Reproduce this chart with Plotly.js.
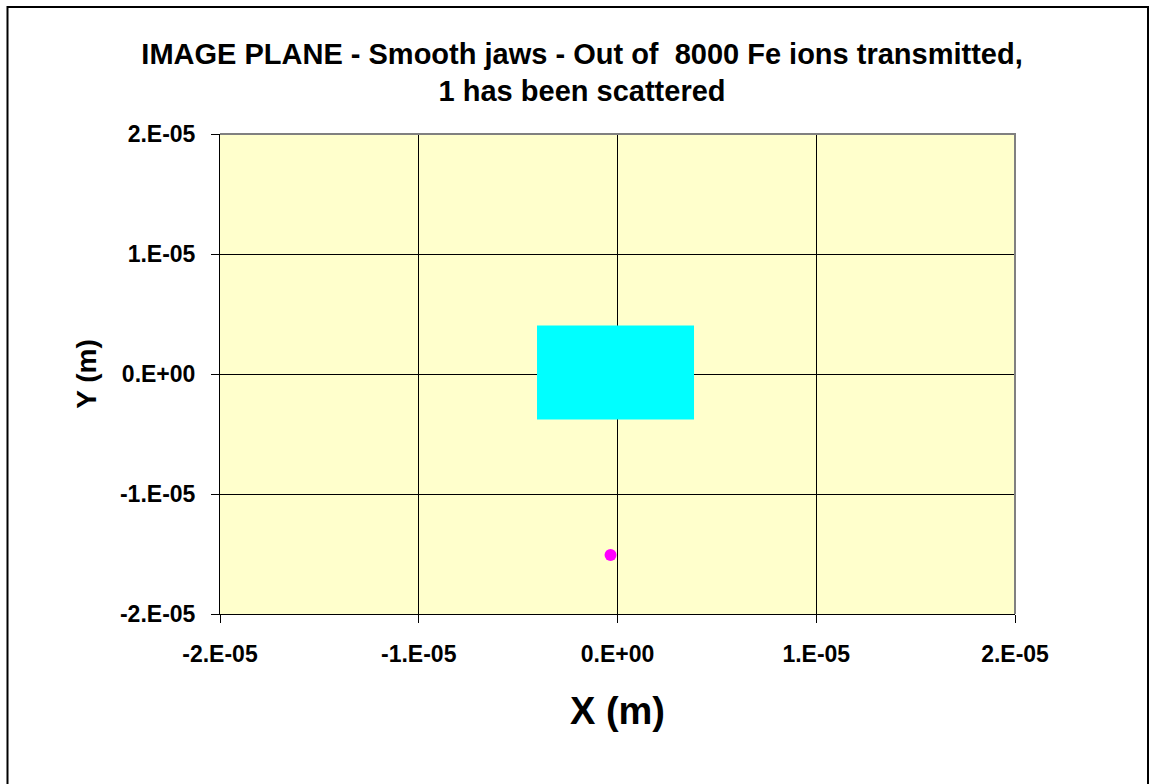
<!DOCTYPE html>
<html>
<head>
<meta charset="utf-8">
<script src="https://cdn.plot.ly/plotly-3.0.1.min.js"></script>
<style>
html,body{margin:0;padding:0;background:#fff;overflow:hidden;}
#chart{width:1151px;height:784px;}
</style>
</head>
<body>
<div id="chart"></div>
<script>
// Transmitted ions: outline of the dense cyan cloud (corners)
var cloudX = [-4.05e-6, 3.85e-6, 3.85e-6, -4.05e-6, -4.05e-6];
var cloudY = [4.05e-6, 4.05e-6, -3.8e-6, -3.8e-6, 4.05e-6];
// The single scattered ion
var scatteredX = [-3.5e-7];
var scatteredY = [-1.508e-5];
// Axis ticks
var tickVals = [-2e-5, -1e-5, 0, 1e-5, 2e-5];
var tickText = ["-2.E-05", "-1.E-05", "0.E+00", "1.E-05", "2.E-05"];
var yTickText = ["-2.E-05", "-1.E-05", "0.E+00", "1.E-05", "2.E-05"];

var font = "Liberation Sans, Arial, sans-serif";

var traces = [
  {
    x: cloudX, y: cloudY, type: "scatter", mode: "lines",
    fill: "toself", fillcolor: "#00FFFF",
    line: {color: "#00FFFF", width: 0},
    hoverinfo: "skip", showlegend: false
  },
  {
    x: scatteredX, y: scatteredY, type: "scatter", mode: "markers",
    marker: {color: "#FF00FF", size: 12, line: {width: 0}},
    showlegend: false
  }
];

var layout = {
  width: 1151, height: 784,
  margin: {l: 220, r: 136, t: 134, b: 170, pad: 0},
  paper_bgcolor: "#FFFFFF",
  plot_bgcolor: "#FFFFCC",
  showlegend: false,
  title: {
    text: "IMAGE PLANE - Smooth jaws - Out of  8000 Fe ions transmitted,<br>1 has been scattered",
    font: {family: font, size: 29, color: "#000000", weight: "bold"},
    x: 0.5057, xref: "container", xanchor: "center",
    y: 0.919, yref: "container", yanchor: "middle"
  },
  xaxis: {
    range: [-2e-5, 2e-5], tickvals: tickVals, ticktext: tickText,
    showgrid: true, gridcolor: "#000000", gridwidth: 1,
    zeroline: false, showline: true, linecolor: "#000000", linewidth: 1,
    ticks: "outside", ticklen: 8, tickcolor: "#000000", tickwidth: 1,
    ticklabelstandoff: 11,
    tickfont: {family: font, size: 23, color: "#000000", weight: "bold"},
    title: {text: "X (m)", font: {family: font, size: 38, color: "#000000", weight: "bold"}, standoff: 31},
    fixedrange: true
  },
  yaxis: {
    range: [-2e-5, 2e-5], tickvals: tickVals, ticktext: yTickText,
    showgrid: true, gridcolor: "#000000", gridwidth: 1,
    zeroline: false, showline: true, linecolor: "#000000", linewidth: 1,
    ticks: "outside", ticklen: 8, tickcolor: "#000000", tickwidth: 1,
    ticklabelstandoff: 11,
    tickfont: {family: font, size: 23, color: "#000000", weight: "bold"},
    title: {text: "Y (m)", font: {family: font, size: 28, color: "#000000", weight: "bold"}, standoff: 15},
    fixedrange: true
  },
  shapes: [
    {type: "path", xref: "paper", yref: "paper",
     path: "M 0,1 L 1,1 L 1,0", line: {color: "#808080", width: 2}, layer: "above"},
    {type: "rect", xref: "paper", yref: "paper",
     x0: -0.2673, x1: 1.1673, y0: -0.3750, y1: 1.2646,
     line: {color: "#000000", width: 2}, fillcolor: "rgba(0,0,0,0)", layer: "below"}
  ]
};

Plotly.newPlot("chart", traces, layout, {displayModeBar: false, staticPlot: true});
</script>
</body>
</html>
